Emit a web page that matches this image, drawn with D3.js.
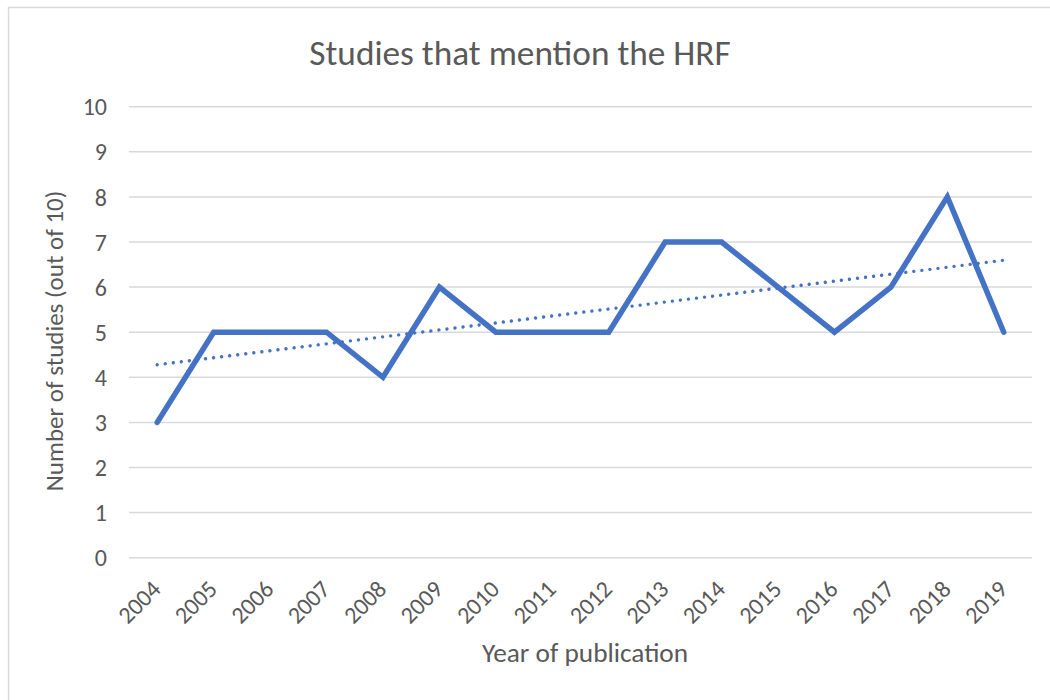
<!DOCTYPE html>
<html>
<head>
<meta charset="utf-8">
<script src="https://cdn.jsdelivr.net/npm/d3@7"></script>
<style>
  html, body { margin: 0; padding: 0; background: #fff; }
  svg { display: block; font-family: Carlito, Calibri, Lato, sans-serif; }
</style>
</head>
<body>
<div id="chart"></div>
<script>
// data
const years = ["2004","2005","2006","2007","2008","2009","2010","2011","2012","2013","2014","2015","2016","2017","2018","2019"];
const studies = [3, 5, 5, 5, 4, 6, 5, 5, 5, 7, 7, 6, 5, 6, 8, 5];
const yTicks = [0, 1, 2, 3, 4, 5, 6, 7, 8, 9, 10];

const W = 1050, H = 700;
const plot = { left: 129, right: 1032, top: 106.7, bottom: 557.7 };
const textColor = "#595959";
const lineColor = "#4472C4";
const gridColor = "#d9d9d9";

const svg = d3.select("#chart").append("svg")
  .attr("width", W)
  .attr("height", H);

// chart frame (right / bottom edges fall outside the picture)
svg.append("rect")
  .attr("x", 8.5).attr("y", 7.5)
  .attr("width", 1060).attr("height", 720)
  .attr("fill", "#fff")
  .attr("stroke", gridColor)
  .attr("stroke-width", 1.5);

// scales
const x = d3.scaleBand().domain(years).range([plot.left, plot.right]);
const y = d3.scaleLinear().domain([0, 10]).range([plot.bottom, plot.top]);
const cx = d => x(d) + x.bandwidth() / 2;

// gridlines
svg.append("g")
  .selectAll("line")
  .data(yTicks)
  .enter()
  .append("line")
  .attr("x1", plot.left).attr("x2", plot.right)
  .attr("y1", d => y(d)).attr("y2", d => y(d))
  .attr("stroke", gridColor)
  .attr("stroke-width", 1.5);

// y tick labels
svg.append("g")
  .selectAll("text")
  .data(yTicks)
  .enter()
  .append("text")
  .attr("x", 107)
  .attr("y", d => y(d))
  .attr("dy", "0.36em")
  .attr("text-anchor", "end")
  .attr("fill", textColor)
  .style("font-size", "24px")
  .text(d => d);

// x tick labels, rotated
svg.append("g")
  .selectAll("text")
  .data(years)
  .enter()
  .append("text")
  .attr("transform", d => `translate(${cx(d) + 5}, ${plot.bottom + 33}) rotate(-45)`)
  .attr("text-anchor", "end")
  .attr("fill", textColor)
  .style("font-size", "24px")
  .text(d => d);

// linear trendline (least squares on the series)
const idx = studies.map((v, i) => i);
const mx = d3.mean(idx), my = d3.mean(studies);
const slope = d3.sum(idx, i => (i - mx) * (studies[i] - my)) / d3.sum(idx, i => (i - mx) * (i - mx));
const icpt = my - slope * mx;
const trend = [years[0], years[years.length - 1]].map(yr => {
  const i = years.indexOf(yr);
  return { year: yr, value: icpt + slope * i };
});

// data line
const line = d3.line()
  .x(d => cx(d.year))
  .y(d => y(d.value));

const series = years.map((yr, i) => ({ year: yr, value: studies[i] }));

svg.append("path")
  .datum(series)
  .attr("d", line)
  .attr("fill", "none")
  .attr("stroke", lineColor)
  .attr("stroke-width", 5.5)
  .attr("stroke-linejoin", "miter")
  .attr("stroke-linecap", "round");

svg.append("path")
  .datum(trend)
  .attr("d", line)
  .attr("fill", "none")
  .attr("stroke", lineColor)
  .attr("stroke-width", 3.4)
  .attr("stroke-linecap", "round")
  .attr("stroke-dasharray", "0.01 8.1");

// title
svg.append("text")
  .attr("x", 520)
  .attr("y", 65)
  .attr("text-anchor", "middle")
  .attr("fill", textColor)
  .style("font-size", "35.3px")
  .text("Studies that mention the HRF");

// axis titles
svg.append("text")
  .attr("transform", `translate(63, 341) rotate(-90)`)
  .attr("text-anchor", "middle")
  .attr("fill", textColor)
  .style("font-size", "25px")
  .text("Number of studies (out of 10)");

svg.append("text")
  .attr("x", 585)
  .attr("y", 662)
  .attr("text-anchor", "middle")
  .attr("fill", textColor)
  .style("font-size", "27.3px")
  .text("Year of publication");
</script>
</body>
</html>
